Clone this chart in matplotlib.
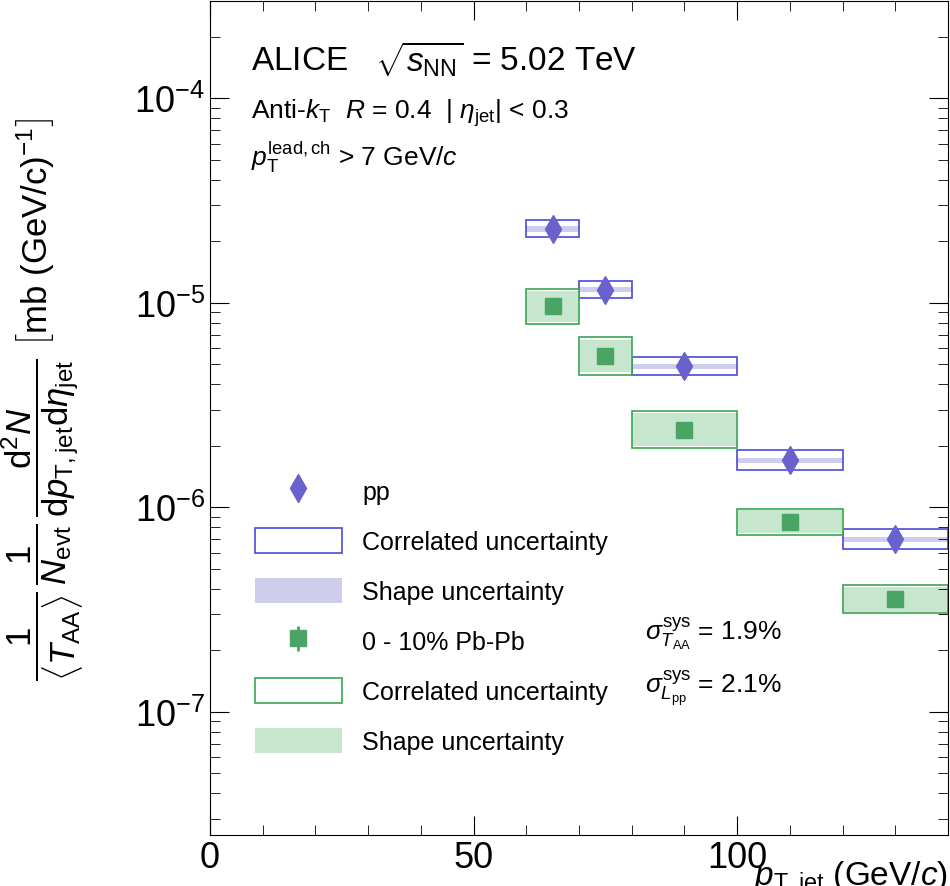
import matplotlib
matplotlib.use("Agg")
import matplotlib.pyplot as plt
import numpy as np
from matplotlib.patches import Rectangle
from matplotlib.lines import Line2D

plt.rcParams["font.family"] = ["Liberation Sans", "DejaVu Sans"]
plt.rcParams["mathtext.fontset"] = "custom"
plt.rcParams["mathtext.rm"] = "Liberation Sans"
plt.rcParams["mathtext.it"] = "Liberation Sans:italic"

bin_lo = [60, 70, 80, 100, 120]
bin_hi = [70, 80, 100, 120, 140]
pp_y = [2.3e-5, 1.16e-5, 4.9e-6, 1.7e-6, 6.97e-7]
pp_corr = [0.10, 0.10, 0.11, 0.12, 0.12]
pp_shape = [0.03, 0.03, 0.03, 0.03, 0.03]
pb_y = [9.6e-6, 5.5e-6, 2.4e-6, 8.5e-7, 3.55e-7]
pb_corr = [0.22, 0.24, 0.23, 0.16, 0.17]
pb_shape = [0.19, 0.20, 0.20, 0.14, 0.15]

PP_C, PP_EDGE, PP_FILL = "#6a62cc", "#4a4ad8", "#cfcdee"
PB_C, PB_EDGE, PB_FILL = "#4aa564", "#3aa552", "#c6e6cd"

fig = plt.figure(figsize=(9.5, 8.87), dpi=100)
ax = fig.add_axes([0.221, 0.0575, 0.777, 0.9405])

for lo, hi, y, c, s in zip(bin_lo, bin_hi, pp_y, pp_corr, pp_shape):
    ax.add_patch(Rectangle((lo, y * (1 - s)), hi - lo, y * 2 * s, facecolor=PP_FILL, edgecolor="none"))
    ax.add_patch(Rectangle((lo, y / (1 + c)), hi - lo, y * (1 + c) - y / (1 + c), facecolor="none", edgecolor=PP_EDGE, lw=1.2))
for lo, hi, y, c, s in zip(bin_lo, bin_hi, pb_y, pb_corr, pb_shape):
    ax.add_patch(Rectangle((lo, y / (1 + s)), hi - lo, y * (1 + s) - y / (1 + s), facecolor=PB_FILL, edgecolor="none"))
    ax.add_patch(Rectangle((lo, y / (1 + c)), hi - lo, y * (1 + c) - y / (1 + c), facecolor="none", edgecolor=PB_EDGE, lw=1.2))

xc = [(a + b) / 2 for a, b in zip(bin_lo, bin_hi)]
ax.plot(xc, pp_y, "d", color=PP_C, ms=14, ls="none")
ax.plot(xc, pb_y, "s", color=PB_C, ms=11, ls="none")

ax.set_yscale("log")
ax.set_xlim(0, 140)
ax.set_ylim(2.5e-8, 3e-4)
ax.set_xticks([0, 50, 100])
ax.tick_params(which="both", direction="in", top=True, right=True, labelsize=26)
ax.tick_params(which="major", length=14)
ax.tick_params(which="minor", length=7)
ax.set_xticks(np.arange(0, 141, 10), minor=True)
ax.set_xlabel(r"$p_{\rm T,jet}$ (GeV/$c$)", fontsize=24, ha="right", va="top")
ax.xaxis.set_label_coords(1.0, -0.028)
fig.text(0.045, 0.55,
         r"$\dfrac{1}{\langle T_{\rm AA}\rangle}\,\dfrac{1}{N_{\rm evt}}\,\dfrac{{\rm d}^2N}{{\rm d}p_{\rm T,jet}{\rm d}\eta_{\rm jet}}$ $\left[{\rm mb\ (GeV/c)^{-1}}\right]$",
         rotation=90, fontsize=25, ha="center", va="center")

ax.text(0.055, 0.955, r"ALICE   $\sqrt{s_{\rm NN}}$ = 5.02 TeV", transform=ax.transAxes, fontsize=24, va="top")
ax.text(0.055, 0.885, r"Anti-$k_{\rm T}$  $R$ = 0.4  | $\eta_{\rm jet}$| < 0.3", transform=ax.transAxes, fontsize=19, va="top")
ax.text(0.055, 0.835, r"$p_{\rm T}^{\rm lead,ch}$ > 7 GeV/$c$", transform=ax.transAxes, fontsize=19, va="top")
ax.text(0.59, 0.235, r"$\sigma^{\rm sys}_{T_{\rm AA}}$ = 1.9%", transform=ax.transAxes, fontsize=19)
ax.text(0.59, 0.17, r"$\sigma^{\rm sys}_{L_{\rm pp}}$ = 2.1%", transform=ax.transAxes, fontsize=19)

h_pp = ax.errorbar([], [], yerr=[], marker="d", color=PP_C, ms=14, ls="none", lw=2)
h_pb = ax.errorbar([], [], yerr=[], marker="s", color=PB_C, ms=11, ls="none", lw=2)
h_ppc = Rectangle((0, 0), 1, 1, facecolor="none", edgecolor=PP_EDGE, lw=1.2)
h_pps = Rectangle((0, 0), 1, 1, facecolor=PP_FILL, edgecolor="none")
h_pbc = Rectangle((0, 0), 1, 1, facecolor="none", edgecolor=PB_EDGE, lw=1.2)
h_pbs = Rectangle((0, 0), 1, 1, facecolor=PB_FILL, edgecolor="none")
leg = ax.legend([h_pp, h_ppc, h_pps, h_pb, h_pbc, h_pbs],
                ["pp", "Correlated uncertainty", "Shape uncertainty",
                 "0 - 10% Pb-Pb", "Correlated uncertainty", "Shape uncertainty"],
                loc="lower left", bbox_to_anchor=(0.03, 0.07), frameon=False,
                fontsize=18, handlelength=3.5, handleheight=1.2, labelspacing=0.95)

fig.savefig("out.png", dpi=100)
